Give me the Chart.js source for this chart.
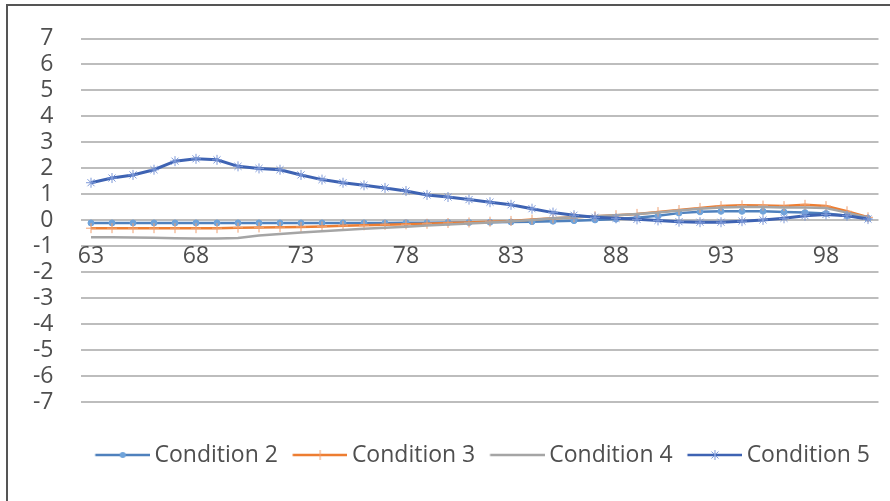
<!DOCTYPE html>
<html>
<head>
<meta charset="utf-8">
<script src="https://cdn.jsdelivr.net/npm/chart.js@4"></script>
<style>
  body { margin: 0; background: #fff; overflow: hidden; }
  #wrap { position: relative; width: 890px; height: 501px; }
  #frame { position: absolute; left: 6px; top: 4px; width: 900px; height: 520px; border: 2px solid #555; box-sizing: border-box; }
  #chart { position: absolute; left: 0; top: 0; }
</style>
</head>
<body>
<div id="wrap">
  <div id="frame"></div>
  <canvas id="chart" width="890" height="501"></canvas>
</div>
<script>
// categories along the x axis
const positions = ['63','64','65','66','67','68','69','70','71','72','73','74','75','76','77','78','79','80','81','82',
                   '83','84','85','86','87','88','89','90','91','92','93','94','95','96','97','98','99','100'];
const shownTicks = ['63','68','73','78','83','88','93','98'];

const condition2 = [-0.1,-0.1,-0.1,-0.1,-0.1,-0.1,-0.1,-0.1,-0.1,-0.1,-0.1,-0.1,-0.1,-0.1,-0.1,-0.09,-0.09,-0.08,-0.08,-0.07,
                    -0.06,-0.05,-0.03,-0.01,0.02,0.05,0.1,0.18,0.28,0.33,0.35,0.35,0.35,0.32,0.3,0.27,0.18,0.08];
const condition3 = [-0.3,-0.3,-0.3,-0.3,-0.3,-0.3,-0.3,-0.28,-0.27,-0.26,-0.25,-0.23,-0.21,-0.19,-0.17,-0.15,-0.13,-0.1,-0.08,-0.05,
                    -0.02,0.03,0.08,0.12,0.16,0.2,0.25,0.32,0.4,0.48,0.55,0.58,0.57,0.55,0.6,0.55,0.35,0.12];
const condition4 = [-0.65,-0.65,-0.66,-0.67,-0.69,-0.7,-0.7,-0.68,-0.58,-0.52,-0.47,-0.42,-0.37,-0.32,-0.28,-0.24,-0.2,-0.16,-0.12,-0.08,
                    -0.03,0.02,0.08,0.12,0.16,0.2,0.25,0.3,0.38,0.45,0.5,0.52,0.52,0.5,0.5,0.48,0.3,0.1];
const condition5 = [1.45,1.63,1.75,1.95,2.28,2.37,2.33,2.08,2.0,1.95,1.75,1.57,1.45,1.35,1.25,1.13,0.98,0.9,0.8,0.7,
                    0.6,0.45,0.3,0.2,0.12,0.08,0.04,0.0,-0.05,-0.07,-0.07,-0.03,0.02,0.08,0.18,0.23,0.18,0.05];

const textColor = '#4f4f4f';
Chart.defaults.font.family = "'Open Sans', sans-serif";
Chart.defaults.font.size = 23;
Chart.defaults.color = textColor;

// legend symbol: a short line with the series marker, sitting at the right of the image
const SYMBOL_BOX = 61.5;
function legendIcon(color, marker, markerColor) {
  const c = document.createElement('canvas');
  c.width = SYMBOL_BOX + 14; c.height = 14;
  const x0 = SYMBOL_BOX - 41, x1 = SYMBOL_BOX + 14, mid = (x0 + x1) / 2;
  const g = c.getContext('2d');
  g.strokeStyle = color; g.lineWidth = 2.5;
  g.beginPath(); g.moveTo(x0, 7); g.lineTo(x1, 7); g.stroke();
  g.strokeStyle = markerColor; g.fillStyle = markerColor; g.lineWidth = 1;
  if (marker === 'circle') {
    g.beginPath(); g.arc(mid, 7, 3, 0, Math.PI * 2); g.fill();
  } else if (marker === 'cross') {
    g.beginPath(); g.moveTo(mid, 2); g.lineTo(mid, 12); g.stroke();
  } else if (marker === 'star') {
    g.beginPath();
    g.moveTo(mid, 2); g.lineTo(mid, 12);
    g.moveTo(mid - 3.5, 3.5); g.lineTo(mid + 3.5, 10.5);
    g.moveTo(mid + 3.5, 3.5); g.lineTo(mid - 3.5, 10.5);
    g.stroke();
  }
  return c;
}

const series = [
  { label: 'Condition 2', data: condition2, color: '#4F81BD', marker: 'circle', markerColor: '#6FA3DA', radius: 3, width: 2.5, order: 4 },
  { label: 'Condition 3', data: condition3, color: '#ED7D31', marker: 'cross', markerColor: '#F0A070', radius: 5, width: 2.5, order: 3 },
  { label: 'Condition 4', data: condition4, color: '#A5A5A5', marker: false, markerColor: '#A5A5A5', radius: 0, width: 2.5, order: 2 },
  { label: 'Condition 5', data: condition5, color: '#3E63B3', marker: 'star', markerColor: '#7C98D8', radius: 5, width: 3, order: 1 }
];

const icons = series.map(s => legendIcon(s.color, s.marker, s.markerColor));

new Chart(document.getElementById('chart'), {
  type: 'line',
  data: {
    labels: positions,
    datasets: series.map(s => ({
      label: s.label,
      data: s.data,
      order: s.order,
      borderColor: s.color,
      borderWidth: s.width,
      backgroundColor: s.markerColor,
      pointStyle: s.marker,
      pointRadius: s.radius,
      pointBorderColor: s.markerColor,
      pointBackgroundColor: s.markerColor,
      pointBorderWidth: 1,
      tension: 0
    }))
  },
  options: {
    responsive: false,
    animation: false,
    layout: { padding: { top: 34.3, right: 11.5, bottom: 24.5, left: 0 } },
    scales: {
      x: {
        type: 'category',
        offset: true,
        position: { y: -1 },
        grid: { display: false, drawTicks: false },
        border: { display: false },
        ticks: {
          autoSkip: false,
          maxRotation: 0,
          padding: -1,
          font: { size: 23, lineHeight: 1 },
          callback: function (value) {
            const lbl = this.getLabelForValue(value);
            return shownTicks.includes(lbl) ? lbl : null;
          }
        }
      },
      y: {
        min: -7,
        max: 7,
        afterFit: scale => { scale.width = 80.5; },
        grid: { color: '#BDBDBD', lineWidth: 2, drawTicks: false },
        border: { display: false },
        ticks: { stepSize: 1, autoSkip: false, padding: 27, font: { size: 23, lineHeight: 1 } }
      }
    },
    plugins: {
      tooltip: { enabled: false },
      legend: {
        position: 'bottom',
        align: 'start',
        fullSize: false,
        title: { display: true, text: '', padding: { top: 12.9, bottom: 12.9 }, font: { size: 12 } },
        labels: {
          usePointStyle: true,
          pointStyleWidth: SYMBOL_BOX,
          padding: 1,
          color: textColor,
          font: { size: 23 },
          generateLabels: chart => chart.data.datasets.map((ds, i) => ({
            text: ds.label,
            pointStyle: icons[i],
            fillStyle: ds.borderColor,
            strokeStyle: ds.borderColor,
            lineWidth: 0,
            hidden: false,
            datasetIndex: i,
            fontColor: textColor
          }))
        }
      }
    }
  }
});
</script>
</body>
</html>
